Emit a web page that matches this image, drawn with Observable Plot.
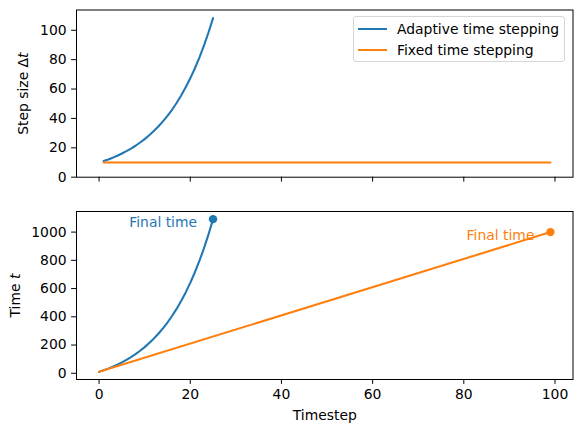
<!DOCTYPE html>
<html>
<head>
<meta charset="utf-8">
<script src="https://cdn.jsdelivr.net/npm/d3@7"></script>
<script src="https://cdn.jsdelivr.net/npm/@observablehq/plot@0.6"></script>
<style>
  html, body { margin: 0; padding: 0; background: #fff; }
  #fig { position: relative; width: 581px; height: 432px; font-family: "DejaVu Sans", sans-serif; }
  #fig svg { position: absolute; left: 0; }
  .legend { position: absolute; left: 353px; top: 16px; width: 212px; height: 46px; border: 1px solid #d6d6d6; border-radius: 3px; background: rgba(255,255,255,0.8); font-size: 13.9px; color: #000; box-sizing: border-box; }
  .legend .row { position: absolute; left: 0; height: 18px; line-height: 18px; white-space: nowrap; }
  .legend .sw { position: absolute; left: 4px; top: 8px; width: 29px; height: 2px; }
  .legend .lb { position: absolute; left: 43px; top: 0; }
</style>
</head>
<body>
<div id="fig"></div>
<script>
// ---- data ----
const seriesNames = ["Adaptive time stepping", "Fixed time stepping"];
const seriesColors = ["#1f77b4", "#ff7f0e"];

// step size (top panel)
const adaptiveStepX = [1,2,3,4,5,6,7,8,9,10,11,12,13,14,15,16,17,18,19,20,21,22,23,24,25];
const adaptiveDt = [11.0,12.1,13.3,14.6,16.1,17.7,19.5,21.4,23.6,25.9,28.5,31.4,34.5,38.0,41.8,45.9,50.5,55.6,61.2,67.3,74.0,81.4,89.5,98.5,108.3];
const fixedStepX = [1, 99];
const fixedDt = [10, 10];

// time (bottom panel)
const adaptiveTimeX = [0,1,2,3,4,5,6,7,8,9,10,11,12,13,14,15,16,17,18,19,20,21,22,23,24,25];
const adaptiveTime = [10,21.0,33.1,46.4,61.1,77.2,94.9,114.4,135.8,159.4,185.3,213.9,245.2,279.8,317.7,359.5,405.5,456.0,511.6,572.8,640.0,714.0,795.4,885.0,983.5,1091.8];
const fixedTimeX = [0, 99];
const fixedTime = [10, 1000];

// final-time markers
const finalStep = [25, 99];
const finalTime = [1091.8, 1000];
const finalLabel = ["Final time", "Final time"];

// ticks
const xTicks = [0, 20, 40, 60, 80, 100];
const dtTicks = [0, 20, 40, 60, 80, 100];
const timeTicks = [0, 200, 400, 600, 800, 1000];

// ---- build ----
const pts = (xs, ys) => xs.map((x, i) => ({x, y: ys[i]}));
const finals = finalStep.map((x, i) => ({x, y: finalTime[i], label: finalLabel[i], color: seriesColors[i]}));

const W = 581;
const FS = 13.9;
const baseStyle = {fontFamily: "DejaVu Sans, sans-serif", fontSize: FS + "px", color: "#000", background: "transparent", overflow: "visible"};
const xDomain = [-4.95, 103.95];
const fmt = d => String(d);

const topPlot = Plot.plot({
  width: W, height: 195,
  marginLeft: 76, marginRight: 8.5, marginTop: 9.5, marginBottom: 18.3,
  style: baseStyle,
  x: {domain: xDomain},
  y: {domain: [0, 113.8]},
  marks: [
    Plot.line(pts(adaptiveStepX, adaptiveDt), {x: "x", y: "y", stroke: seriesColors[0], strokeWidth: 2.08}),
    Plot.line(pts(fixedStepX, fixedDt), {x: "x", y: "y", stroke: seriesColors[1], strokeWidth: 2.08}),
    Plot.frame({stroke: "#000", strokeWidth: 1}),
    Plot.axisX({ticks: xTicks, tickSize: 4.9, tickFormat: () => "", label: null}),
    Plot.axisY({ticks: dtTicks, tickSize: 4.9, tickPadding: 5, tickFormat: fmt, label: "Step size Δt", labelAnchor: "center", labelArrow: "none", labelOffset: 58})
  ]
});
topPlot.style.top = "0px";

const bottomPlot = Plot.plot({
  width: W, height: 237,
  marginLeft: 76, marginRight: 8.5, marginTop: 16, marginBottom: 53,
  style: baseStyle,
  x: {domain: xDomain},
  y: {domain: [-44.1, 1145.9]},
  marks: [
    Plot.line(pts(adaptiveTimeX, adaptiveTime), {x: "x", y: "y", stroke: seriesColors[0], strokeWidth: 2.08}),
    Plot.line(pts(fixedTimeX, fixedTime), {x: "x", y: "y", stroke: seriesColors[1], strokeWidth: 2.08}),
    Plot.dot(finals, {x: "x", y: "y", r: 4.2, fill: "color", stroke: null}),
    Plot.text(finals, {x: "x", y: "y", text: "label", fill: "color", textAnchor: "end", dx: -16, dy: 3, fontSize: FS}),
    Plot.frame({stroke: "#000", strokeWidth: 1}),
    Plot.axisX({ticks: xTicks, tickSize: 4.9, tickPadding: 5, tickFormat: fmt, label: "Timestep", labelAnchor: "center", labelArrow: "none", labelOffset: 40}),
    Plot.axisY({ticks: timeTicks, tickSize: 4.9, tickPadding: 5, tickFormat: fmt, label: "Time t", labelAnchor: "center", labelArrow: "none", labelOffset: 66})
  ]
});
bottomPlot.style.top = "195px";

// italic math "t" in the y labels
function italicizeT(svg) {
  const t = svg.querySelector('g[aria-label="y-axis label"] text');
  if (!t) return;
  const full = t.textContent;
  t.textContent = "";
  const ns = "http://www.w3.org/2000/svg";
  const a = document.createElementNS(ns, "tspan");
  a.textContent = full.slice(0, -1);
  const b = document.createElementNS(ns, "tspan");
  b.textContent = "t";
  b.setAttribute("font-style", "italic");
  t.appendChild(a); t.appendChild(b);
}
italicizeT(topPlot);
italicizeT(bottomPlot);

const fig = document.getElementById("fig");
fig.appendChild(topPlot);
fig.appendChild(bottomPlot);

// legend
const legend = document.createElement("div");
legend.className = "legend";
seriesNames.forEach((name, i) => {
  const row = document.createElement("div");
  row.className = "row";
  row.style.top = (3 + i * 20.5) + "px";
  row.style.width = "100%";
  const sw = document.createElement("div");
  sw.className = "sw";
  sw.style.background = seriesColors[i];
  const lb = document.createElement("span");
  lb.className = "lb";
  lb.textContent = name;
  row.appendChild(sw); row.appendChild(lb);
  legend.appendChild(row);
});
fig.appendChild(legend);
</script>
</body>
</html>
